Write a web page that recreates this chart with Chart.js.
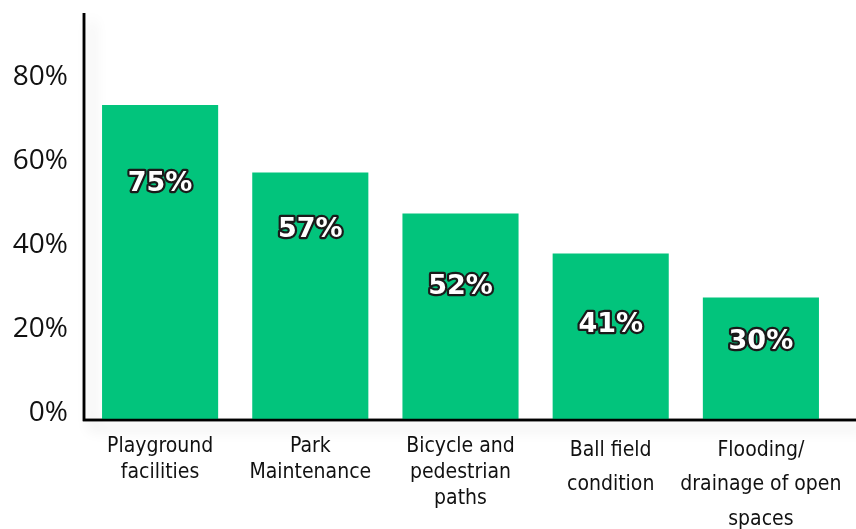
<!DOCTYPE html>
<html>
<head>
<meta charset="utf-8">
<script src="https://cdn.jsdelivr.net/npm/chart.js@4/dist/chart.umd.min.js"></script>
<style>
  html,body{margin:0;padding:0;background:#fff;}
  #wrap{width:856px;height:529px;position:relative;}
</style>
</head>
<body>
<div id="wrap"><canvas id="chart"></canvas></div>
<script>
'use strict';
// ── DATA ──────────────────────────────────────────────────────
const categories = [
  ['Playground', 'facilities'],
  ['Park', 'Maintenance'],
  ['Bicycle and', 'pedestrian', 'paths'],
  ['Ball field', 'condition'],
  ['Flooding/', 'drainage of open', 'spaces']
];
// bar heights as drawn (%)
const barValues = [75.1, 59, 49.2, 39.7, 29.2];
// printed labels on the bars
const barLabels = ['75%', '57%', '52%', '41%', '30%'];
// where each printed label sits, in axis units
const labelAt = [56.3, 45.2, 31.6, 22.6, 18.5];
const yTicks = [0, 20, 40, 60, 80];
const yMax = 97;

const GREEN = '#02C47C';

// ── PLUGINS ───────────────────────────────────────────────────
function axisPath(ctx, ca, w) {
  ctx.beginPath();
  ctx.moveTo(ca.left - 1, ca.top);
  ctx.lineTo(ca.left - 1, ca.bottom);
  ctx.lineTo(w, ca.bottom);
}

const axesPlugin = {
  id: 'axes',
  beforeDatasetsDraw(chart) {
    const {ctx, chartArea: ca, width} = chart;
    ctx.save();
    ctx.shadowColor = 'rgba(0,0,0,0.18)';
    ctx.shadowBlur = 14;
    ctx.shadowOffsetX = 8;
    ctx.shadowOffsetY = 8;
    ctx.strokeStyle = '#000';
    ctx.lineWidth = 2.5;
    axisPath(ctx, ca, width);
    ctx.stroke();
    ctx.restore();
  },
  afterDatasetsDraw(chart) {
    const {ctx, chartArea: ca, width} = chart;
    ctx.save();
    ctx.strokeStyle = '#000';
    ctx.lineWidth = 2.5;
    axisPath(ctx, ca, width);
    ctx.stroke();
    ctx.restore();
  }
};

const valueLabels = {
  id: 'valueLabels',
  afterDraw(chart) {
    const {ctx} = chart;
    const meta = chart.getDatasetMeta(0);
    const y = chart.scales.y;
    ctx.save();
    ctx.font = 'bold 27px "DejaVu Sans"';
    ctx.textAlign = 'center';
    ctx.textBaseline = 'middle';
    ctx.lineJoin = 'round';
    meta.data.forEach((bar, i) => {
      const py = y.getPixelForValue(labelAt[i]);
      ctx.lineWidth = 4.5;
      ctx.strokeStyle = '#1a1a1a';
      ctx.strokeText(barLabels[i], bar.x, py);
      ctx.fillStyle = '#fff';
      ctx.fillText(barLabels[i], bar.x, py);
    });
    ctx.restore();
  }
};

function noPad(s) {
  s.paddingTop = 0; s.paddingBottom = 0;
  s.paddingLeft = 0; s.paddingRight = 0;
}

// ── CHART ─────────────────────────────────────────────────────
new Chart(document.getElementById('chart').getContext('2d'), {
  type: 'bar',
  data: {
    labels: categories,
    datasets: [{
      data: barValues,
      backgroundColor: GREEN,
      borderWidth: 0,
      categoryPercentage: 1,
      barPercentage: 0.773
    }]
  },
  options: {
    responsive: true,
    maintainAspectRatio: false,
    animation: false,
    layout: { padding: { top: 13, right: 20, left: 0, bottom: 0 } },
    plugins: { legend: { display: false }, tooltip: { enabled: false } },
    scales: {
      x: {
        grid: { display: false, drawTicks: false },
        border: { display: false },
        ticks: {
          color: '#111',
          padding: 13,
          maxRotation: 0,
          autoSkip: false,
          font: c => ({
            family: '"Liberation Sans Narrow", "DejaVu Sans Condensed", sans-serif',
            size: 21,
            lineHeight: c.index > 2 ? 1.65 : 1.25
          })
        },
        afterFit: s => { s.height = 109; noPad(s); }
      },
      y: {
        min: 0,
        max: yMax,
        grid: { display: false, drawTicks: false },
        border: { display: false },
        afterBuildTicks: s => { s.ticks = yTicks.map(v => ({ value: v })); },
        ticks: {
          color: '#111',
          padding: 17,
          labelOffset: -7,
          font: { family: '"Open Sans", sans-serif', size: 28 },
          callback: v => v + '%'
        },
        afterFit: s => { s.width = 85; noPad(s); }
      }
    }
  },
  plugins: [axesPlugin, valueLabels]
});
</script>
</body>
</html>
